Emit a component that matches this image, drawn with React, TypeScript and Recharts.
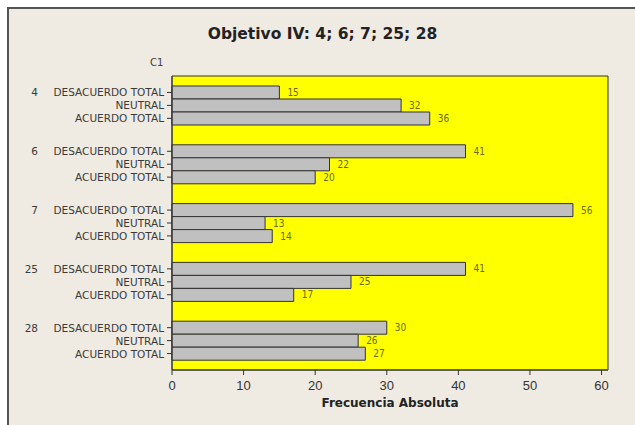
import React from "react";
import { BarChart, Bar, XAxis, YAxis, CartesianGrid, LabelList } from "recharts";

const groups = ["4", "6", "7", "25", "28"];
const responses = ["DESACUERDO TOTAL", "NEUTRAL", "ACUERDO TOTAL"];
const desacuerdo = [15, 41, 56, 41, 30];
const neutral = [32, 22, 13, 25, 26];
const acuerdo = [36, 20, 14, 17, 27];
const xTicks = [0, 10, 20, 30, 40, 50, 60];

const data = groups.map((g, i) => ({
    group: g,
    d: desacuerdo[i],
    n: neutral[i],
    a: acuerdo[i],
}));

const W = 635;
const H = 425;
const PLOT_LEFT = 172;
const PLOT_TOP = 76;
const PLOT_RIGHT = 608;
const PLOT_BOTTOM = 370;
const GAP = 10;
const ROW = (PLOT_BOTTOM - PLOT_TOP - 2 * GAP * groups.length) / (groups.length * responses.length);

const labelFont = "'DejaVu Sans', Verdana, sans-serif";

const GroupTick = (props: any) => {
    const { y, payload } = props;
    return (
        <g>
            <text x={38} y={y - ROW} textAnchor="end" dominantBaseline="central" fontSize={10.5} fill="#3a3a3a" fontFamily={labelFont}>
                {payload.value}
            </text>
            {responses.map((r, k) => {
                const cy = y + (k - 1) * ROW;
                return (
                    <g key={r}>
                        <text x={PLOT_LEFT - 8} y={cy} textAnchor="end" dominantBaseline="central" fontSize={10.5} fill="#3a3a3a" fontFamily={labelFont}>
                            {r}
                        </text>
                        <line x1={PLOT_LEFT - 5} x2={PLOT_LEFT} y1={cy} y2={cy} stroke="#333" />
                    </g>
                );
            })}
        </g>
    );
};

const valueLabel = { fill: "#6b6b10", fontSize: 10, fontFamily: "'DejaVu Sans Condensed', 'DejaVu Sans', sans-serif" };

export default function App() {
    return (
        <div style={{ position: "relative", width: W, height: H, overflow: "hidden", background: "#fff" }}>
            <style>{"body{margin:0}"}</style>
            <div
                style={{
                    position: "absolute",
                    left: 7,
                    top: 7,
                    width: W,
                    height: H,
                    background: "#efebe3",
                    borderTop: "2px solid #555",
                    borderLeft: "2px solid #555",
                }}
            />
            <div
                style={{
                    position: "absolute",
                    left: 0,
                    width: W + 10,
                    top: 25,
                    textAlign: "center",
                    fontFamily: labelFont,
                    fontWeight: "bold",
                    fontSize: 15.5,
                    color: "#222",
                }}
            >
                Objetivo IV: 4; 6; 7; 25; 28
            </div>
            <div
                style={{
                    position: "absolute",
                    left: 150,
                    top: 57,
                    fontFamily: labelFont,
                    fontSize: 10,
                    color: "#404040",
                }}
            >
                C1
            </div>
            <div
                style={{
                    position: "absolute",
                    left: PLOT_LEFT,
                    width: PLOT_RIGHT - PLOT_LEFT,
                    top: 396,
                    textAlign: "center",
                    fontFamily: labelFont,
                    fontWeight: "bold",
                    fontSize: 12,
                    color: "#222",
                }}
            >
                Frecuencia Absoluta
            </div>
            <div style={{ position: "absolute", left: 0, top: 0 }}>
                <BarChart
                    width={W}
                    height={H}
                    data={data}
                    layout="vertical"
                    margin={{ top: PLOT_TOP, left: PLOT_LEFT - 165, right: W - PLOT_RIGHT, bottom: H - PLOT_BOTTOM - 30 }}
                    barCategoryGap={GAP}
                    barGap={0}
                >
                    <CartesianGrid
                        fill="#ffff00"
                        stroke="#333"
                        strokeOpacity={1}
                        horizontalCoordinatesGenerator={({ offset }: any) => [offset.top, offset.top + offset.height]}
                        verticalCoordinatesGenerator={({ offset }: any) => [offset.left, offset.left + offset.width]}
                    />
                    <XAxis
                        type="number"
                        domain={[0, 60.9]}
                        ticks={xTicks}
                        height={30}
                        tickSize={5}
                        tickMargin={6}
                        stroke="#333"
                        axisLine={{ stroke: "#333" }}
                        tick={{ fill: "#333", fontSize: 13, fontFamily: "'Liberation Sans', Arial, sans-serif" }}
                    />
                    <YAxis
                        type="category"
                        dataKey="group"
                        width={165}
                        tickLine={false}
                        axisLine={{ stroke: "#333" }}
                        tick={<GroupTick />}
                        interval={0}
                    />
                    <Bar dataKey="d" fill="#c0c0c0" stroke="#333" strokeWidth={1} isAnimationActive={false}>
                        <LabelList dataKey="d" position="right" offset={8} style={valueLabel} />
                    </Bar>
                    <Bar dataKey="n" fill="#c0c0c0" stroke="#333" strokeWidth={1} isAnimationActive={false}>
                        <LabelList dataKey="n" position="right" offset={8} style={valueLabel} />
                    </Bar>
                    <Bar dataKey="a" fill="#c0c0c0" stroke="#333" strokeWidth={1} isAnimationActive={false}>
                        <LabelList dataKey="a" position="right" offset={8} style={valueLabel} />
                    </Bar>
                </BarChart>
            </div>
        </div>
    );
}
